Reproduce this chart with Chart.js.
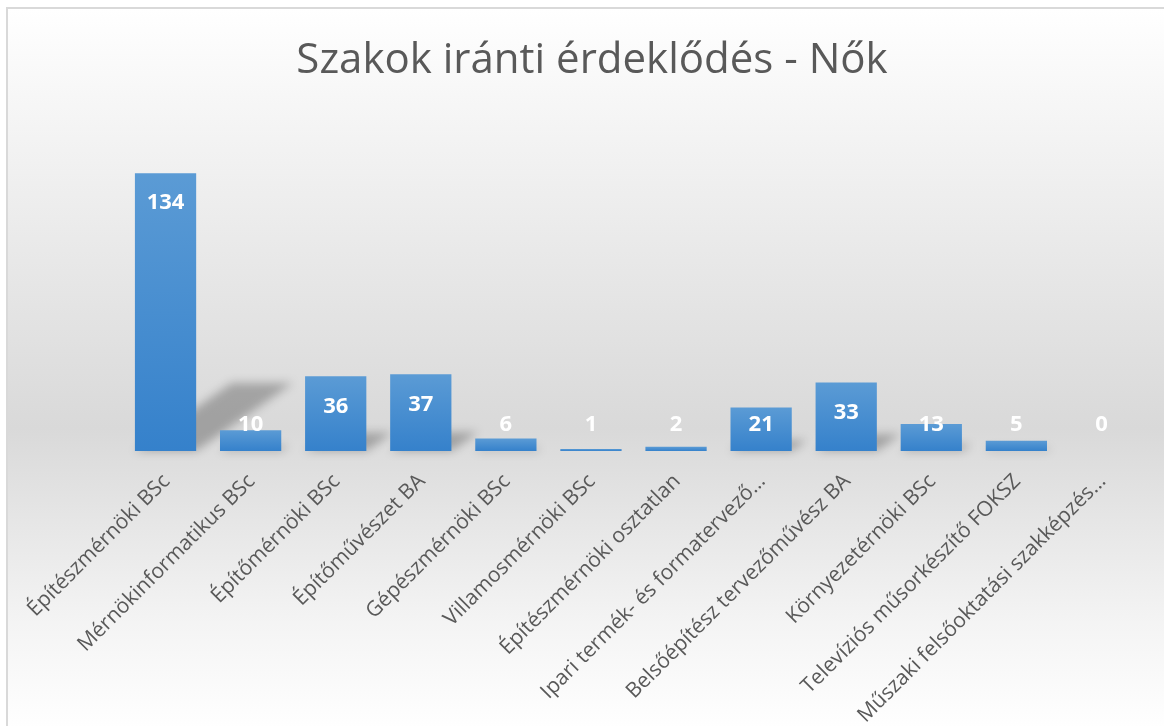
<!DOCTYPE html>
<html>
<head>
<meta charset="utf-8">
<script src="https://cdn.jsdelivr.net/npm/chart.js@4.4.1/dist/chart.umd.min.js"></script>
<style>
    html, body { margin: 0; padding: 0; background: #fff; }
    #frame {
        position: absolute; left: 6px; top: 7px; width: 1160px; height: 722px;
        border-top: 2px solid #d9d9d9; border-left: 2px solid #d9d9d9;
        background: linear-gradient(to bottom, #ffffff 0%, #f3f3f3 18%, #d9d9d9 58%, #f4f4f4 85%, #ffffff 100%);
    }
    #wrap { position: absolute; left: 0; top: 0; width: 1164px; height: 726px; }
</style>
</head>
<body>
<div id="frame"></div>
<div id="wrap"><canvas id="chart" width="1164" height="726"></canvas></div>
<script>
const title = 'Szakok iránti érdeklődés - Nők';
const labels = [
    'Építészmérnöki BSc',
    'Mérnökinformatikus BSc',
    'Építőmérnöki BSc',
    'Építőművészet BA',
    'Gépészmérnöki BSc',
    'Villamosmérnöki BSc',
    'Építészmérnöki osztatlan',
    'Ipari termék- és formatervező…',
    'Belsőépítész tervezőművész BA',
    'Környezetérnöki BSc',
    'Televíziós műsorkészítő FOKSZ',
    'Műszaki felsőoktatási szakképzés…'
];
const values = [134, 10, 36, 37, 6, 1, 2, 21, 33, 13, 5, 0];

const ctx = document.getElementById('chart').getContext('2d');

// gradient for each bar, from its top down to the base
function barGradient(context) {
    const chart = context.chart;
    const y = chart.scales.y;
    if (!y || context.dataIndex === undefined) return '#4a8fd2';
    const top = y.getPixelForValue(values[context.dataIndex]);
    const base = y.getPixelForValue(0);
    if (!isFinite(top) || !isFinite(base) || top === base) return '#4a8fd2';
    const g = chart.ctx.createLinearGradient(0, top, 0, base);
    g.addColorStop(0, '#5b9bd5');
    g.addColorStop(1, '#3581cb');
    return g;
}

// title, soft perspective shadows, white value labels
const decor = {
    id: 'decor',
    beforeDatasetsDraw(chart) {
        const c = chart.ctx;
        c.save();
        c.filter = 'blur(5px)';
        c.fillStyle = 'rgba(0,0,0,0.26)';
        chart.getDatasetMeta(0).data.forEach(bar => {
            const h = (bar.base - bar.y) * 0.245;
            if (h < 2) return;
            const x0 = bar.x - bar.width / 2, x1 = bar.x + bar.width / 2;
            c.beginPath();
            c.moveTo(x0, bar.base);
            c.lineTo(x1, bar.base);
            c.lineTo(x1 + h * 1.42, bar.base - h);
            c.lineTo(x0 + h * 1.42, bar.base - h);
            c.closePath();
            c.fill();
        });
        c.restore();
    },
    afterDatasetsDraw(chart) {
        const c = chart.ctx;
        c.save();
        c.fillStyle = '#ffffff';
        c.font = 'bold 22px "Open Sans"';
        c.textAlign = 'center';
        c.textBaseline = 'middle';
        chart.getDatasetMeta(0).data.forEach((bar, i) => {
            const y = Math.min(bar.y + 30, bar.base - 26);
            c.fillText(String(values[i]), bar.x, y);
        });
        c.fillStyle = '#595959';
        c.font = '42px "Open Sans"';
        c.fillText(title, 592, 61);
        c.restore();
    }
};

const chart = new Chart(ctx, {
    type: 'bar',
    data: {
        labels: labels,
        datasets: [{
            data: values,
            backgroundColor: barGradient,
            borderWidth: 0,
            barPercentage: 0.72,
            categoryPercentage: 1
        }]
    },
    options: {
        responsive: false,
        animation: false,
        layout: { padding: { left: 123, right: 20, top: 140, bottom: 0 } },
        plugins: {
            legend: { display: false },
            tooltip: { enabled: false }
        },
        scales: {
            y: { display: false, min: 0, max: 150 },
            x: {
                grid: { display: false },
                border: { display: false },
                ticks: {
                    color: '#595959',
                    font: { family: 'Open Sans', size: 21 },
                    minRotation: 45,
                    maxRotation: 45,
                    autoSkip: false,
                    padding: 10,
                    labelOffset: 1
                },
                afterFit(scale) {
                    scale.height = 275;
                    scale.paddingLeft = 0;
                    scale.paddingRight = 0;
                }
            }
        }
    },
    plugins: [decor]
});
</script>
</body>
</html>
